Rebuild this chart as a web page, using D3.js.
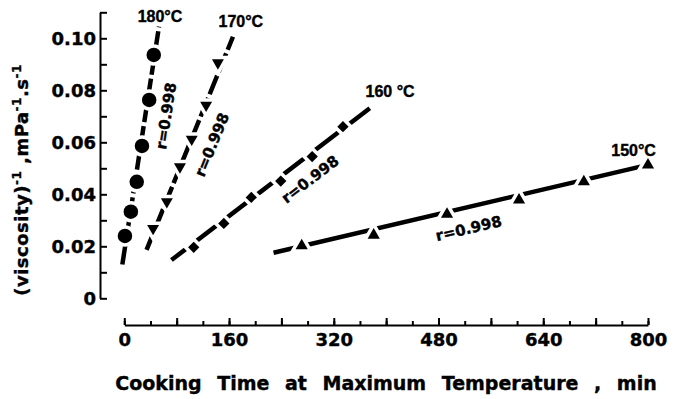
<!DOCTYPE html>
<html>
<head>
<meta charset="utf-8">
<script src="https://cdn.jsdelivr.net/npm/d3@7/dist/d3.min.js"></script>
<style>
  html, body { margin: 0; padding: 0; background: #fff; }
  svg { display: block; }
  text { font-family: "DejaVu Sans", sans-serif; font-weight: bold; fill: #000; stroke: #000; stroke-width: 0.4px; }
</style>
</head>
<body>
<svg id="chart" width="687" height="399"></svg>
<script>
// Cooking time (min) and reciprocal viscosity (mPa^-1 s^-1) per cooking temperature
const temperatures = ["180°C", "170°C", "160 °C", "150°C"];
const correlations = ["r=0.998", "r=0.998", "r=0.998", "r=0.998"];

const time180 = [1, 10, 19, 27, 38, 45];
const visc180 = [0.0240, 0.0333, 0.0448, 0.0586, 0.0763, 0.0936];
const time170 = [44, 65, 85, 103, 125, 143];
const visc170 = [0.0269, 0.0372, 0.0506, 0.0612, 0.0743, 0.0906];
const time160 = [106, 152, 194, 239, 287, 334];
const visc160 = [0.0196, 0.0288, 0.0388, 0.0451, 0.0545, 0.0660];
const time150 = [271, 381, 493, 603, 702, 800];
const visc150 = [0.0202, 0.0243, 0.0323, 0.0378, 0.0448, 0.0513];

// Regression lines: [start, end] in time and viscosity units
const fitTime180 = [-3, 53],   fitVisc180 = [0.0130, 0.1045];
const fitTime170 = [34, 166],  fitVisc170 = [0.0186, 0.1006];
const fitTime160 = [72, 375],  fitVisc160 = [0.0147, 0.0731];
const fitTime150 = [228, 800], fitVisc150 = [0.0175, 0.0513];

// Axis ticks
const xMinorTicks = d3.range(0, 801, 40);
const xMajorTicks = d3.range(0, 801, 80);
const xLabelTicks = [0, 160, 320, 480, 640, 800];
const yTicks = d3.range(0, 0.1101, 0.01).map(v => +v.toFixed(2));
const yLabelTicks = [0, 0.02, 0.04, 0.06, 0.08, 0.10];

const svg = d3.select("#chart");

const x = d3.scaleLinear().domain([0, 800]).range([124.3, 648]);
const y = d3.scaleLinear().domain([0, 0.11]).range([298.3, 12.3]);

const tickFont = sel => sel
  .style("font-size", "18px")
  .style("font-family", "DejaVu Sans")
  .style("font-weight", "bold")
  .attr("fill", "#000");

// ---- y axis (ticks point inward, to the right) ----
const yAxis = d3.axisLeft(y)
  .tickValues(yTicks)
  .tickSizeInner(-7)
  .tickSizeOuter(0)
  .tickPadding(4)
  .tickFormat(v => yLabelTicks.some(t => Math.abs(t - v) < 1e-9) ? (v === 0 ? "0" : d3.format(".2f")(v)) : "");
const gy = svg.append("g").attr("transform", "translate(100,0)").call(yAxis);
gy.select(".domain").attr("stroke", "#000").attr("stroke-width", 2);
gy.selectAll(".tick line").attr("stroke", "#000").attr("stroke-width", 2);
gy.selectAll(".tick text").call(tickFont);

// ---- x axis (ticks point upward) ----
const xAxisY = 325;
const xMinor = d3.axisBottom(x).tickValues(xMinorTicks).tickSizeInner(-4).tickSizeOuter(0).tickFormat("");
const gxm = svg.append("g").attr("transform", `translate(0,${xAxisY})`).call(xMinor);
gxm.select(".domain").attr("stroke", "#000").attr("stroke-width", 2);
gxm.selectAll(".tick line").attr("stroke", "#000").attr("stroke-width", 2);

const xMajor = d3.axisBottom(x)
  .tickValues(xMajorTicks)
  .tickSizeInner(-7)
  .tickSizeOuter(0)
  .tickPadding(8)
  .tickFormat(v => xLabelTicks.includes(v) ? String(v) : "");
const gxM = svg.append("g").attr("transform", `translate(0,${xAxisY})`).call(xMajor);
gxM.select(".domain").remove();
gxM.selectAll(".tick line").attr("stroke", "#000").attr("stroke-width", 2);
gxM.selectAll(".tick text").call(tickFont);

// ---- axis titles ----
svg.append("text")
  .attr("x", 386).attr("y", 390)
  .attr("text-anchor", "middle")
  .style("font-size", "19px")
  .style("word-spacing", "9px")
  .text("Cooking Time at Maximum Temperature , min");

const yTitle = svg.append("text")
  .attr("transform", "translate(28,180) rotate(-90)")
  .attr("text-anchor", "middle")
  .style("font-size", "18px")
  .style("letter-spacing", "0.5px");
yTitle.append("tspan").text("(viscosity)");
yTitle.append("tspan").attr("dy", -7).style("font-size", "12px").text("-1");
yTitle.append("tspan").attr("dy", 7).text(" ,mPa");
yTitle.append("tspan").attr("dy", -7).style("font-size", "12px").text("-1");
yTitle.append("tspan").attr("dy", 7).text(".s");
yTitle.append("tspan").attr("dy", -7).style("font-size", "12px").text("-1");

// ---- series ----
const series = [
  { times: time180, visc: visc180, fitT: fitTime180, fitV: fitVisc180, symbol: d3.symbolCircle, size: 165, rotate: 0, dash: "20,4",
    label: temperatures[0], labelAt: [54.5, 0.1082], r: correlations[0], rAt: [64, 0.0701] },
  { times: time170, visc: visc170, fitT: fitTime170, fitV: fitVisc170, symbol: d3.symbolTriangle, size: 62, rotate: 180, dash: "20,4",
    label: temperatures[1], labelAt: [178, 0.1063], r: correlations[1], rAt: [134, 0.0590] },
  { times: time160, visc: visc160, fitT: fitTime160, fitV: fitVisc160, symbol: d3.symbolSquare, size: 64, rotate: 45, dash: null,
    label: temperatures[2], labelAt: [406, 0.0797], r: correlations[2], rAt: [284, 0.0457] },
  { times: time150, visc: visc150, fitT: fitTime150, fitV: fitVisc150, symbol: d3.symbolTriangle, size: 64, rotate: 0, dash: null,
    label: temperatures[3], labelAt: [778, 0.0567], r: correlations[3], rAt: [526, 0.0268] }
];

const line = d3.line().x(d => x(d[0])).y(d => y(d[1]));

series.forEach(s => {
  const g = svg.append("g");
  const ends = [[s.fitT[0], s.fitV[0]], [s.fitT[1], s.fitV[1]]];
  g.append("path")
    .attr("d", line(ends))
    .attr("fill", "none")
    .attr("stroke", "#000")
    .attr("stroke-width", 4.5)
    .attr("stroke-dasharray", s.dash);

  const pts = s.times.map((t, i) => [t, s.visc[i]]);
  const sym = d3.symbol(s.symbol, s.size);
  // white halo, then solid marker
  g.selectAll(".halo").data(pts).join("path")
    .attr("class", "halo")
    .attr("d", sym)
    .attr("transform", d => `translate(${x(d[0])},${y(d[1])}) rotate(${s.rotate})`)
    .attr("fill", "#fff").attr("stroke", "#fff").attr("stroke-width", 7);
  g.selectAll(".mark").data(pts).join("path")
    .attr("class", "mark")
    .attr("d", sym)
    .attr("transform", d => `translate(${x(d[0])},${y(d[1])}) rotate(${s.rotate})`)
    .attr("fill", "#000");

  // temperature label
  g.append("text")
    .attr("x", x(s.labelAt[0])).attr("y", y(s.labelAt[1]))
    .attr("text-anchor", "middle")
    .attr("dominant-baseline", "central")
    .style("font-family", "Liberation Sans")
    .style("font-size", "16px")
    .text(s.label);

  // correlation label, aligned with the regression line
  const angle = Math.atan2(y(ends[1][1]) - y(ends[0][1]), x(ends[1][0]) - x(ends[0][0])) * 180 / Math.PI;
  g.append("text")
    .attr("transform", `translate(${x(s.rAt[0])},${y(s.rAt[1])}) rotate(${angle})`)
    .attr("text-anchor", "middle")
    .attr("dominant-baseline", "central")
    .style("font-size", "15px")
    .text(s.r);
});
</script>
</body>
</html>
